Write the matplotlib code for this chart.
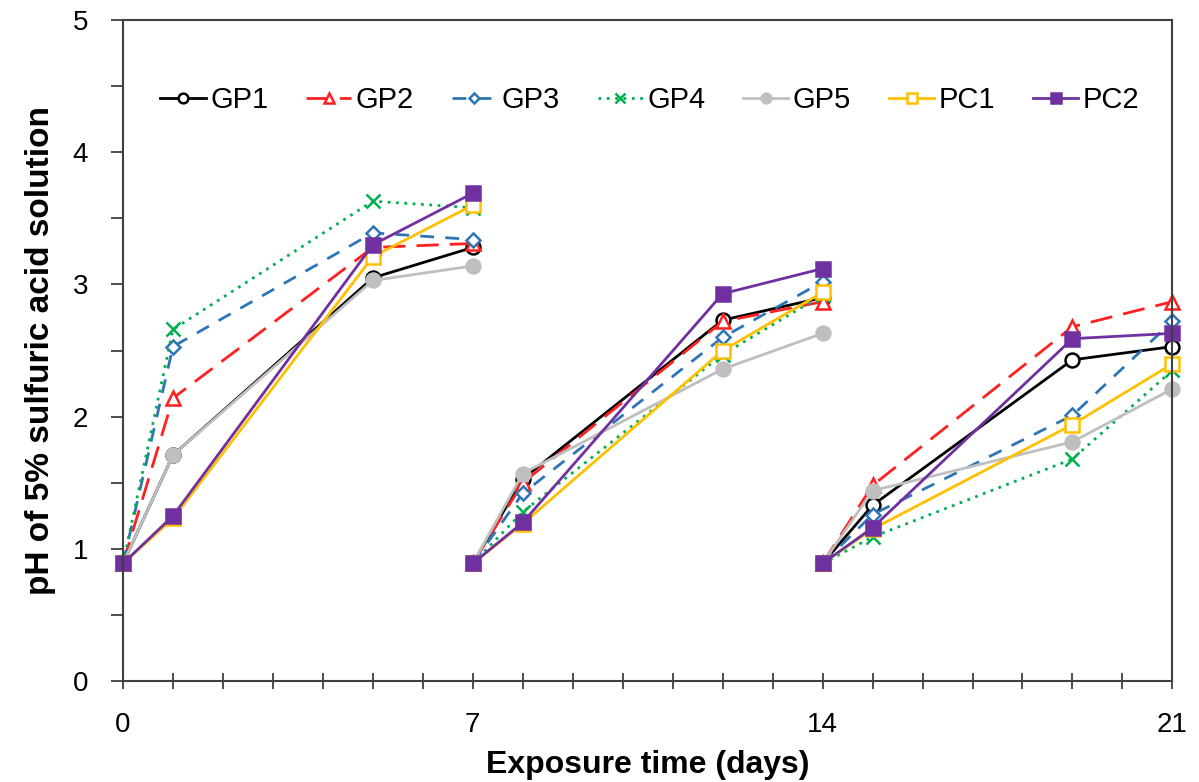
import numpy as np
import matplotlib.pyplot as plt
from matplotlib.ticker import MultipleLocator

# exposure days per 7-day cycle (solution renewed at day 0, 7 and 14)
days = [0, 1, 5, 7, 7, 8, 12, 14, 14, 15, 19, 21]

gp1 = [0.89, 1.71, 3.05, 3.28, 0.89, 1.53, 2.73, 2.90, 0.89, 1.33, 2.43, 2.53]
gp2 = [0.89, 2.14, 3.28, 3.31, 0.89, 1.50, 2.72, 2.87, 0.89, 1.48, 2.68, 2.87]
gp3 = [0.89, 2.53, 3.39, 3.34, 0.89, 1.42, 2.60, 3.02, 0.89, 1.26, 2.01, 2.72]
gp4 = [0.89, 2.66, 3.63, 3.58, 0.89, 1.28, 2.47, 2.92, 0.89, 1.09, 1.68, 2.35]
gp5 = [0.89, 1.71, 3.03, 3.14, 0.89, 1.57, 2.36, 2.63, 0.89, 1.44, 1.81, 2.21]
pc1 = [0.89, 1.23, 3.21, 3.60, 0.89, 1.19, 2.50, 2.94, 0.89, 1.15, 1.94, 2.40]
pc2 = [0.89, 1.25, 3.30, 3.69, 0.89, 1.20, 2.93, 3.12, 0.89, 1.16, 2.59, 2.63]

labels = ["GP1", "GP2", "GP3", "GP4", "GP5", "PC1", "PC2"]
series = [gp1, gp2, gp3, gp4, gp5, pc1, pc2]

styles = [
    dict(color="black", ls="-", marker="o", mfc="white", ms=10),
    dict(color="#FF2020", ls=(0, (8, 4)), marker="^", mfc="white", ms=10),
    dict(color="#2E75B6", ls=(0, (5, 4)), marker="D", mfc="white", ms=7.5),
    dict(color="#00B050", ls=(0, (1, 2)), marker="x", mfc="none", ms=10),
    dict(color="#BFBFBF", ls="-", marker="o", mfc="#BFBFBF", ms=10),
    dict(color="#FFC000", ls="-", marker="s", mfc="white", ms=10),
    dict(color="#7030A0", ls="-", marker="s", mfc="#7030A0", ms=10),
]

plt.rcParams["font.family"] = ["Liberation Sans", "DejaVu Sans"]

fig = plt.figure(figsize=(11.99, 7.82), dpi=100)
ax = fig.add_axes([0.1026, 0.129, 0.8752, 0.8454])

x = np.array(days)
for lab, vals, st in zip(labels, series, styles):
    y = np.array(vals)
    # three separate 7-day segments
    for k in range(3):
        sl = slice(4 * k, 4 * k + 4)
        ax.plot(x[sl], y[sl], lw=2, mew=1.8,
                label=lab if k == 0 else None, clip_on=False, **st)

ax.set_xlim(0, 21)
ax.set_ylim(0, 5)
ax.set_xticks([0, 7, 14, 21])
ax.xaxis.set_minor_locator(MultipleLocator(1))
ax.yaxis.set_major_locator(MultipleLocator(1))
ax.yaxis.set_minor_locator(MultipleLocator(0.5))

for s in ax.spines.values():
    s.set_color("#404040")
    s.set_linewidth(1.5)
ax.tick_params(axis="x", which="both", direction="inout", length=12, width=1.3,
               color="#404040", labelsize=20, pad=16)
ax.tick_params(axis="y", which="both", direction="out", length=9, width=1.3,
               color="#404040", labelsize=20, pad=16)

ax.set_xlabel("Exposure time (days)", fontsize=23, fontweight="bold", labelpad=9)
ax.set_ylabel("pH of 5% sulfuric acid solution", fontsize=24, fontweight="bold", labelpad=12)

ax.legend(loc="center", bbox_to_anchor=(0.502, 0.879), ncol=7, frameon=False,
          fontsize=21, handlelength=1.55, handletextpad=0.15, columnspacing=1.3,
          markerscale=0.7)

plt.savefig("out.png", dpi=100)
